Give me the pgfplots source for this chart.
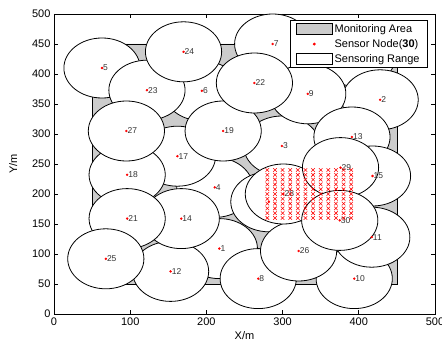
\documentclass[border=0pt]{standalone}
\usepackage{pgfplots}
\pgfplotsset{compat=1.18}
\usepackage{fontspec}
\setmainfont{Liberation Sans}
\definecolor{areagray}{RGB}{204,204,204}
\pgfdeclareplotmark{range}{%
  \pgfpathellipse{\pgfpointorigin}{\pgfqpoint{38.1pt}{0pt}}{\pgfqpoint{0pt}{30pt}}%
  \pgfusepathqfillstroke}
\begin{document}
\begin{tikzpicture}
\begin{axis}[
  scale only axis, width=381pt, height=300pt,
  xmin=0, xmax=500, ymin=0, ymax=500,
  xtick={0,100,...,500}, ytick={0,50,...,500},
  tick align=inside, major tick length=4pt,
  tick style={black, line width=0.6pt},
  axis line style={line width=0.8pt},
  ticklabel style={font=\fontsize{11}{12}\selectfont},
  /pgf/number format/assume math mode=true,
  xlabel={X/m}, ylabel={Y/m},
  label style={font=\fontsize{11}{12}\selectfont},
  xlabel style={at={(axis description cs:0.5,-0.073)}, anchor=center},
  ylabel style={at={(axis description cs:-0.107,0.5)}, anchor=center},
  legend cell align=left,
  legend style={at={(1,1)}, anchor=north east, xshift=-7pt, yshift=-6pt,
    draw=black, line width=0.8pt, fill=white, inner xsep=6pt, inner ysep=2pt, row sep=1.5pt,
    /tikz/every even column/.append style={column sep=7pt},
    font=\fontsize{11}{12}\selectfont},
]
\addlegendimage{legend image code/.code={\draw[fill=areagray,draw=black,line width=0.6pt] (0pt,-5.5pt) rectangle (36pt,5.5pt);}}
\addlegendentry{Monitoring Area}
\addlegendimage{legend image code/.code={\fill[red] (18pt,0pt) circle (1pt);}}
\addlegendentry{Sensor Node(\textbf{30})}
\addlegendimage{legend image code/.code={\draw[fill=white,draw=black,line width=0.6pt] (0pt,-5.5pt) rectangle (36pt,5.5pt);}}
\addlegendentry{Sensoring Range}

% monitoring area
\addplot[forget plot, fill=areagray, draw=black, line width=0.6pt] coordinates {(50,50) (450,50) (450,450) (50,450) (50,50)};

% sensing ranges (radius 50), in drawing order
\addplot[forget plot, only marks, mark=range, mark options={fill=white, draw=black, line width=0.8pt}] table {
x y
398 429
217 109
428 357
299 280
211 211
63 410
194 372
287 450
268 59
333 367
394 59
417 128
153 71
391 295
167 159
418 230
282 187
162 263
96 232
222 305
96 159
263 385
122 373
170 437
68 92
321 105
95 305
301 200
376 244
375 156
};

% sensor nodes
\addplot[forget plot, only marks, mark=*, mark size=1pt, red] coordinates {(282,187)};
\addplot[forget plot, only marks, mark=*, mark size=1pt, red,
  nodes near coords, point meta=explicit symbolic,
  every node near coord/.append style={anchor=west, inner sep=1pt, text=black!80, font=\fontsize{8.5}{9}\selectfont}] table[meta=label] {
x y label
217 109 1
428 357 2
299 280 3
211 211 4
63 410 5
194 372 6
287 450 7
268 59 8
333 367 9
394 59 10
417 128 11
153 71 12
391 295 13
167 159 14
418 230 15
162 263 17
96 232 18
222 305 19
398 429 20
96 159 21
263 385 22
122 373 23
170 437 24
68 92 25
321 105 26
95 305 27
301 200 28
376 244 29
375 156 30
};

% hatched region: grid lines
\addplot[forget plot, red!55, line width=0.4pt, unbounded coords=jump] coordinates {
(280,160)(390,160)(nan,nan)(280,168)(390,168)(nan,nan)(280,176)(390,176)(nan,nan)
(280,184)(390,184)(nan,nan)(280,192)(390,192)(nan,nan)(280,200)(390,200)(nan,nan)
(280,208)(390,208)(nan,nan)(280,216)(390,216)(nan,nan)(280,224)(390,224)(nan,nan)
(280,232)(390,232)(nan,nan)(280,240)(390,240)(nan,nan)
(280,160)(280,240)(nan,nan)(290,160)(290,240)(nan,nan)(300,160)(300,240)(nan,nan)
(310,160)(310,240)(nan,nan)(320,160)(320,240)(nan,nan)(330,160)(330,240)(nan,nan)
(340,160)(340,240)(nan,nan)(350,160)(350,240)(nan,nan)(360,160)(360,240)(nan,nan)
(370,160)(370,240)(nan,nan)(380,160)(380,240)(nan,nan)(390,160)(390,240)
};
\addplot[forget plot, red!80, line width=0.7pt] coordinates {(280,160) (390,160) (390,240) (280,240) (280,160)};
\addplot[forget plot, only marks, mark=x, mark size=2.5pt, red, mark options={line width=0.55pt}] coordinates {
(280,160)(290,160)(300,160)(310,160)(320,160)(330,160)(340,160)(350,160)(360,160)(370,160)(380,160)(390,160)
(280,168)(290,168)(300,168)(310,168)(320,168)(330,168)(340,168)(350,168)(360,168)(370,168)(380,168)(390,168)
(280,176)(290,176)(300,176)(310,176)(320,176)(330,176)(340,176)(350,176)(360,176)(370,176)(380,176)(390,176)
(280,184)(290,184)(300,184)(310,184)(320,184)(330,184)(340,184)(350,184)(360,184)(370,184)(380,184)(390,184)
(280,192)(290,192)(300,192)(310,192)(320,192)(330,192)(340,192)(350,192)(360,192)(370,192)(380,192)(390,192)
(280,200)(290,200)(300,200)(310,200)(320,200)(330,200)(340,200)(350,200)(360,200)(370,200)(380,200)(390,200)
(280,208)(290,208)(300,208)(310,208)(320,208)(330,208)(340,208)(350,208)(360,208)(370,208)(380,208)(390,208)
(280,216)(290,216)(300,216)(310,216)(320,216)(330,216)(340,216)(350,216)(360,216)(370,216)(380,216)(390,216)
(280,224)(290,224)(300,224)(310,224)(320,224)(330,224)(340,224)(350,224)(360,224)(370,224)(380,224)(390,224)
(280,232)(290,232)(300,232)(310,232)(320,232)(330,232)(340,232)(350,232)(360,232)(370,232)(380,232)(390,232)
(280,240)(290,240)(300,240)(310,240)(320,240)(330,240)(340,240)(350,240)(360,240)(370,240)(380,240)(390,240)
};
\end{axis}
\pgfresetboundingbox
\path (current axis.south west) ++(-54pt,-31pt) rectangle ++(442pt,345pt);
\end{tikzpicture}
\end{document}
